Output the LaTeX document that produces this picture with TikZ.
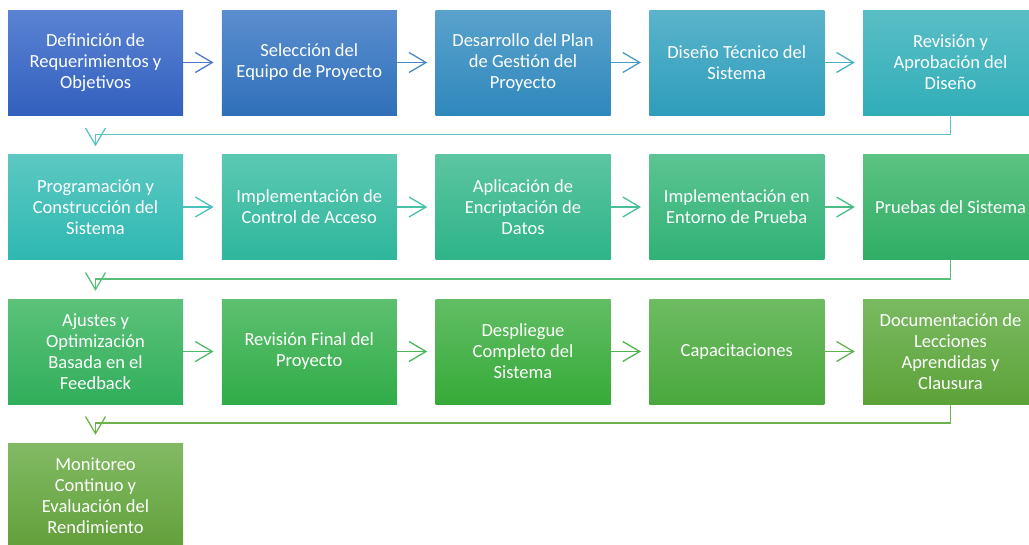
\documentclass[tikz,border=0pt]{standalone}
\usepackage{fontspec}
\setmainfont{Carlito}
\usetikzlibrary{arrows.meta,calc}
\definecolor{t11}{HTML}{5A83D3}\definecolor{b11}{HTML}{3360BE}
\definecolor{t12}{HTML}{5A8ECF}\definecolor{b12}{HTML}{3070BA}
\definecolor{t13}{HTML}{5AA2CC}\definecolor{b13}{HTML}{2F88BC}
\definecolor{t14}{HTML}{5AB4CA}\definecolor{b14}{HTML}{2F9DBC}
\definecolor{t15}{HTML}{5ABEC6}\definecolor{b15}{HTML}{30AEB8}
\definecolor{t21}{HTML}{5CC8C2}\definecolor{b21}{HTML}{2EB8B2}
\definecolor{t22}{HTML}{5CC8B2}\definecolor{b22}{HTML}{2EB69C}
\definecolor{t23}{HTML}{5CC5A2}\definecolor{b23}{HTML}{2EB488}
\definecolor{t24}{HTML}{5CC492}\definecolor{b24}{HTML}{30B276}
\definecolor{t25}{HTML}{5CC282}\definecolor{b25}{HTML}{30AE66}
\definecolor{t31}{HTML}{5CC27A}\definecolor{b31}{HTML}{30AE5A}
\definecolor{t32}{HTML}{5EC070}\definecolor{b32}{HTML}{30AC48}
\definecolor{t33}{HTML}{62BE64}\definecolor{b33}{HTML}{36AA38}
\definecolor{t34}{HTML}{6EBC62}\definecolor{b34}{HTML}{4AA83E}
\definecolor{t35}{HTML}{7ABA62}\definecolor{b35}{HTML}{5CA238}
\definecolor{t41}{HTML}{82BA64}\definecolor{b41}{HTML}{62A03A}
\definecolor{a11}{HTML}{4C78CE}
\definecolor{a12}{HTML}{4A88CA}
\definecolor{a13}{HTML}{4A9CC8}
\definecolor{a14}{HTML}{4AAEC6}
\definecolor{e1}{HTML}{5CC4C6}
\definecolor{a21}{HTML}{4AC2BC}
\definecolor{a22}{HTML}{4AC0A8}
\definecolor{a23}{HTML}{4ABE96}
\definecolor{a24}{HTML}{4ABC86}
\definecolor{e2}{HTML}{58BE78}
\definecolor{a31}{HTML}{4CBA68}
\definecolor{a32}{HTML}{4CB65C}
\definecolor{a33}{HTML}{50B44E}
\definecolor{a34}{HTML}{60B250}
\definecolor{e3}{HTML}{6EB24E}
\tikzset{
  box/.style={minimum width=175pt, minimum height=105pt, inner sep=0pt,
    align=center, text=white, font=\fontsize{18.5}{21}\selectfont},
  conn/.style={line width=1.5pt, -{Straight Barb[length=17pt,width=20pt,line width=1.3pt]}},
  hconn/.style={conn, shorten >=8pt},
  vconn/.style={conn, shorten >=8pt}
}
\begin{document}
\begin{tikzpicture}[x=1pt,y=-1pt]
\useasboundingbox (0,0) rectangle (1029,544);
\begin{scope}
\clip (0,0) rectangle (1029,544);
% row 1
\node[box, top color=t11, bottom color=b11] (n1) at (95.5,62.5) {Definición de\\Requerimientos y\\Objetivos};
\node[box, top color=t12, bottom color=b12] (n2) at (309.25,62.5) {Selección del\\Equipo de Proyecto};
\node[box, top color=t13, bottom color=b13] (n3) at (523,62.5) {Desarrollo del Plan\\de Gestión del\\Proyecto};
\node[box, top color=t14, bottom color=b14] (n4) at (736.75,62.5) {Diseño Técnico del\\Sistema};
\node[box, top color=t15, bottom color=b15] (n5) at (950.5,62.5) {Revisión y\\Aprobación del\\Diseño};
% row 2
\node[box, top color=t21, bottom color=b21] (n6) at (95.5,207) {Programación y\\Construcción del\\Sistema};
\node[box, top color=t22, bottom color=b22] (n7) at (309.25,207) {Implementación de\\Control de Acceso};
\node[box, top color=t23, bottom color=b23] (n8) at (523,207) {Aplicación de\\Encriptación de\\Datos};
\node[box, top color=t24, bottom color=b24] (n9) at (736.75,207) {Implementación en\\Entorno de Prueba};
\node[box, top color=t25, bottom color=b25] (n10) at (950.5,207) {Pruebas del Sistema};
% row 3
\node[box, top color=t31, bottom color=b31] (n11) at (95.5,351.5) {Ajustes y\\Optimización\\Basada en el\\Feedback};
\node[box, top color=t32, bottom color=b32] (n12) at (309.25,351.5) {Revisión Final del\\Proyecto};
\node[box, top color=t33, bottom color=b33] (n13) at (523,351.5) {Despliegue\\Completo del\\Sistema};
\node[box, top color=t34, bottom color=b34] (n14) at (736.75,351.5) {Capacitaciones};
\node[box, top color=t35, bottom color=b35] (n15) at (950.5,351.5) {Documentación de\\Lecciones\\Aprendidas y\\Clausura};
% row 4
\node[box, top color=t41, bottom color=b41] (n16) at (95.5,495.5) {Monitoreo\\Continuo y\\Evaluación del\\Rendimiento};
% horizontal connectors
\draw[hconn, a11] (n1.east) -- (n2.west);
\draw[hconn, a12] (n2.east) -- (n3.west);
\draw[hconn, a13] (n3.east) -- (n4.west);
\draw[hconn, a14] (n4.east) -- (n5.west);
\draw[hconn, a21] (n6.east) -- (n7.west);
\draw[hconn, a22] (n7.east) -- (n8.west);
\draw[hconn, a23] (n8.east) -- (n9.west);
\draw[hconn, a24] (n9.east) -- (n10.west);
\draw[hconn, a31] (n11.east) -- (n12.west);
\draw[hconn, a32] (n12.east) -- (n13.west);
\draw[hconn, a33] (n13.east) -- (n14.west);
\draw[hconn, a34] (n14.east) -- (n15.west);
% elbow connectors
\draw[vconn, e1] (n5.south) |- ($(n6.north)+(0,-20)$) -- (n6.north);
\draw[vconn, e2] (n10.south) |- ($(n11.north)+(0,-20)$) -- (n11.north);
\draw[vconn, e3] (n15.south) |- ($(n16.north)+(0,-20)$) -- (n16.north);
\end{scope}
\end{tikzpicture}
\end{document}
